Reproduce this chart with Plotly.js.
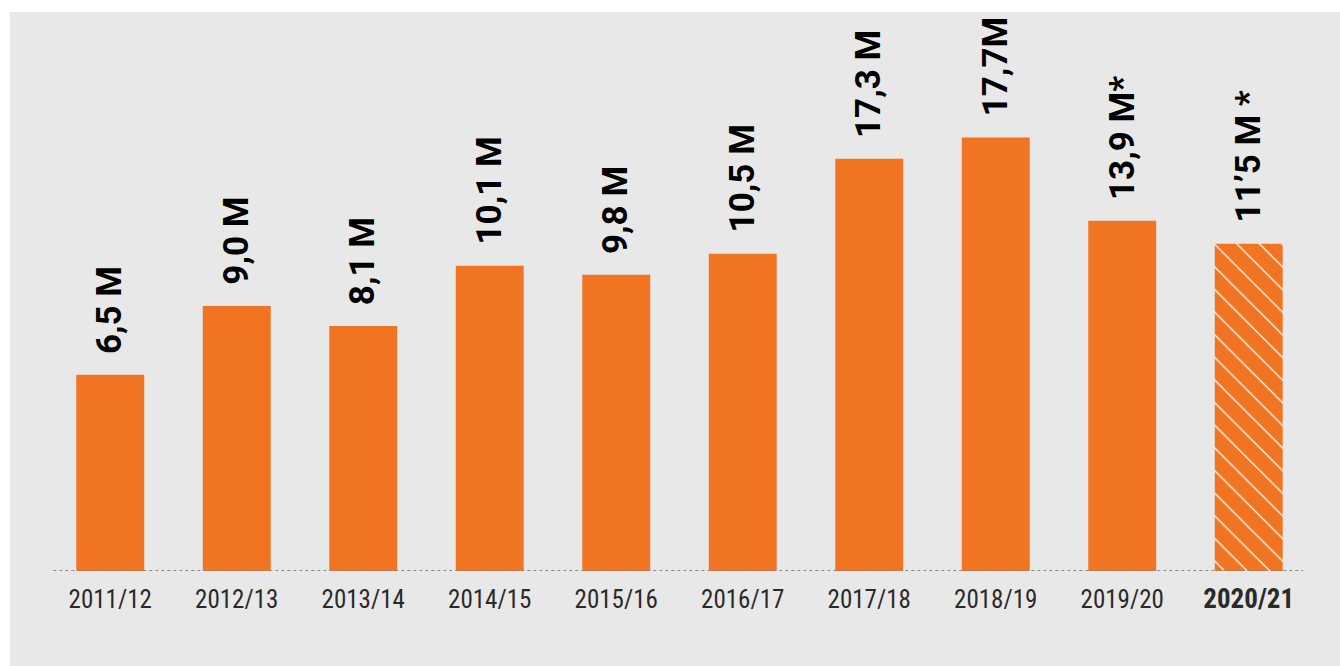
<!DOCTYPE html>
<html>
<head>
<meta charset="utf-8">
<script src="https://cdn.plot.ly/plotly-3.0.1.min.js"></script>
<style>
  html, body { margin: 0; padding: 0; background: #ffffff; }
  #chart { position: absolute; left: 10px; top: 12px; width: 1330px; height: 654px; }
</style>
</head>
<body>
<div id="chart"></div>
<script>
// Seasons (categories)
const seasons = ['2011/12','2012/13','2013/14','2014/15','2015/16','2016/17','2017/18','2018/19','2019/20','2020/21'];
const barHeights = [6.49, 8.77, 8.11, 10.10, 9.80, 10.50, 13.64, 14.34, 11.59, 10.83];
// Value labels printed above the bars
const valueLabels = ['6,5 M','9,0 M','8,1 M','10,1 M','9,8 M','10,5 M','17,3 M','17,7M','13,9 M*','11\u20195 M *'];
// Tick labels (last one bold)
const tickLabels = ['2011/12','2012/13','2013/14','2014/15','2015/16','2016/17','2017/18','2018/19','2019/20','<span style="font-size:27px"><b>2020/21</b></span>'];
// Hatch pattern per bar (last season is an estimate)
const hatch = ['', '', '', '', '', '', '', '', '', '\\'];

const ORANGE = '#F07421';

const trace = {
  type: 'bar',
  x: seasons,
  y: barHeights,
  marker: {
    color: ORANGE,
    line: { width: 0 },
    pattern: { shape: hatch, fgcolor: '#ffffff', bgcolor: ORANGE, fgopacity: 1, size: 16, solidity: 0.08, fillmode: 'overlay' }
  },
  hoverinfo: 'skip'
};

const annotations = seasons.map((s, i) => ({
  x: s,
  y: barHeights[i],
  xref: 'x', yref: 'y',
  text: '<b>' + valueLabels[i] + '</b>',
  showarrow: false,
  textangle: -90,
  xanchor: 'center',
  yanchor: 'bottom',
  yshift: 19,
  font: { family: 'Roboto, "Open Sans", sans-serif', size: 35, color: '#000000', weight: i === seasons.length - 1 ? 900 : 700 }
}));

const layout = {
  width: 1330, height: 654,
  paper_bgcolor: '#e8e8e8',
  plot_bgcolor: '#e8e8e8',
  margin: { l: 37, r: 28, t: 15, b: 95 },
  bargap: 0.463,
  showlegend: false,
  xaxis: {
    type: 'category',
    tickvals: seasons,
    ticktext: tickLabels,
    showgrid: false, zeroline: false, showline: false,
    ticks: '', ticklabelstandoff: 11,
    tickfont: { family: '"Liberation Sans Narrow", "Roboto Condensed", "Roboto", sans-serif', size: 25, color: '#2a2a2a' }
  },
  yaxis: {
    range: [0, 18],
    visible: false,
    showgrid: false, zeroline: false
  },
  shapes: [{
    type: 'line', xref: 'x', yref: 'y',
    x0: -0.45, x1: 9.43, y0: 0, y1: 0,
    line: { color: '#8a8a8a', width: 2, dash: 'dot' },
    layer: 'above'
  }],
  annotations: annotations
};

Plotly.newPlot('chart', [trace], layout, { displayModeBar: false, staticPlot: true });
</script>
</body>
</html>
